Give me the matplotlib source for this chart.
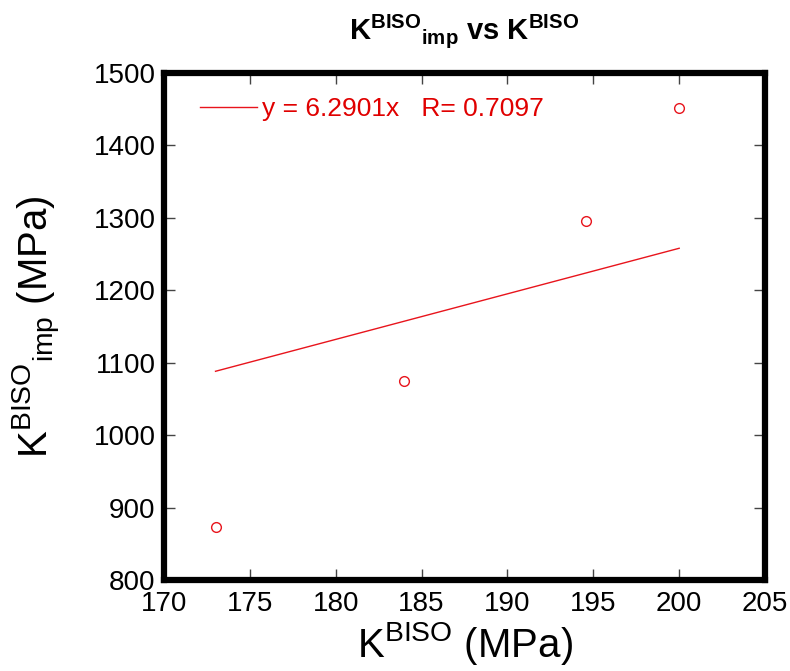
import matplotlib
matplotlib.use("Agg")
import matplotlib.pyplot as plt

plt.rcParams['font.family'] = ['Liberation Sans', 'DejaVu Sans']
plt.rcParams['mathtext.fontset'] = 'custom'
plt.rcParams['mathtext.rm'] = 'Liberation Sans'
plt.rcParams['mathtext.bf'] = 'Liberation Sans:bold'
plt.rcParams['mathtext.it'] = 'Liberation Sans'

# Data
x_vals = [173.0, 184.0, 194.6, 200.0]
y_vals = [873.0, 1075.0, 1296.0, 1452.0]
slope = 6.2901
r_value = 0.7097
fit_x = [173.0, 200.0]
fit_y = [slope * v for v in fit_x]
x_ticks = [170, 175, 180, 185, 190, 195, 200, 205]
y_ticks = [800, 900, 1000, 1100, 1200, 1300, 1400, 1500]

fig = plt.figure(figsize=(7.9, 6.71), dpi=100)
ax = fig.add_axes([0.2076, 0.1356, 0.7608, 0.7556])

ax.plot(x_vals, y_vals, linestyle='none', marker='o', markersize=7,
        markerfacecolor='none', markeredgecolor='#e8141c', markeredgewidth=1.0)
line, = ax.plot(fit_x, fit_y, color='#e8141c', linewidth=1.0,
                label='y = %.4fx   R= %.4f' % (slope, r_value))

ax.set_xlim(170, 205)
ax.set_ylim(800, 1500)
ax.set_xticks(x_ticks)
ax.set_yticks(y_ticks)
ax.tick_params(direction='in', length=8, width=1, color='#444444',
               labelsize=20, top=True, right=True)
ax.tick_params(axis='x', pad=8)
ax.tick_params(axis='y', pad=6)
for s in ax.spines.values():
    s.set_linewidth(4.5)
    s.set_color('black')

ax.set_xlabel(r'K$^{\mathregular{BISO}}$ (MPa)', fontsize=29, labelpad=2)
ax.set_ylabel(r'K$^{\mathregular{BISO}}$$_{\mathregular{imp}}$ (MPa)', fontsize=29, labelpad=22)
ax.set_title(r'K$^{\mathbf{BISO}}$$_{\mathbf{imp}}$ vs K$^{\mathbf{BISO}}$',
             fontsize=21, fontweight='bold', pad=24)

leg = ax.legend(loc='upper left', frameon=False, fontsize=19,
                handlelength=2.15, handletextpad=0.2,
                bbox_to_anchor=(0.02, 1.0), labelcolor='#e00000')

fig.savefig('out.png', dpi=100)
